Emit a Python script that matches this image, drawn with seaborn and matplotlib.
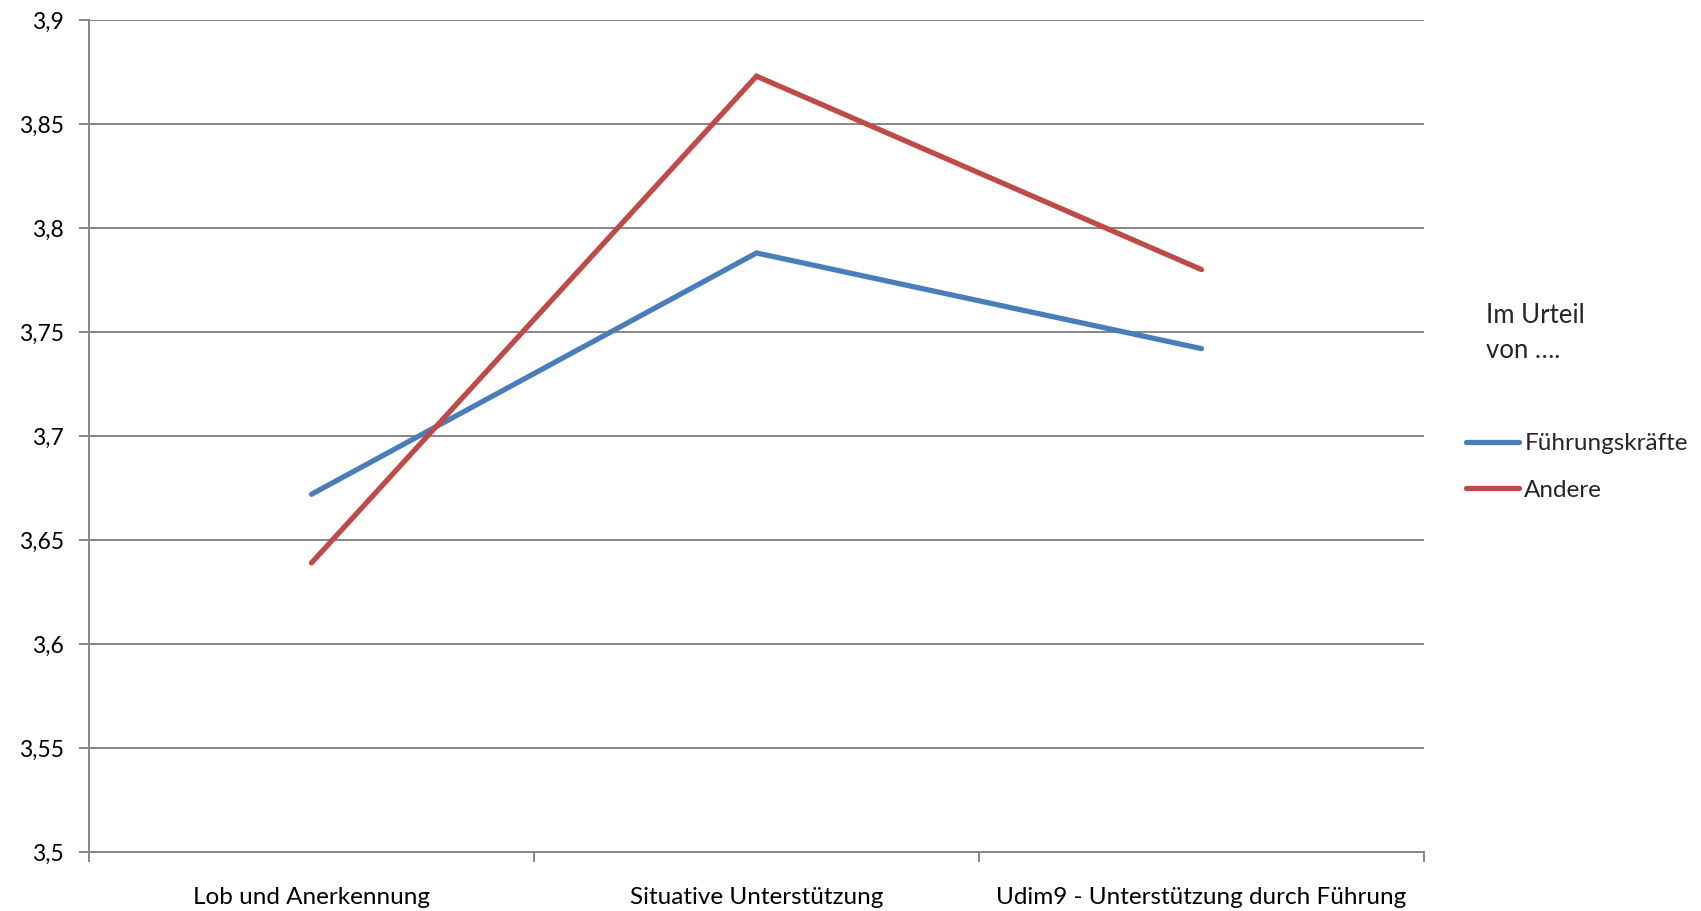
import matplotlib
matplotlib.use("Agg")
import matplotlib.pyplot as plt
from matplotlib.ticker import FixedLocator, FuncFormatter
import seaborn as sns
import pandas as pd

# Mean ratings per dimension, split by who gave the rating
categories = ["Lob und Anerkennung", "Situative Unterstützung", "Udim9 - Unterstützung durch Führung"]
fuehrungskraefte = [3.672, 3.788, 3.742]
andere = [3.639, 3.873, 3.780]
series_names = ["Führungskräfte", "Andere"]
y_ticks = [3.5, 3.55, 3.6, 3.65, 3.7, 3.75, 3.8, 3.85, 3.9]

df = pd.DataFrame({
    "Kategorie": categories * 2,
    "Wert": fuehrungskraefte + andere,
    "Gruppe": [series_names[0]] * 3 + [series_names[1]] * 3,
})

sns.set_theme(style="white")
plt.rcParams["font.family"] = ["Lato", "DejaVu Sans"]

grid_col = "#868686"
palette = {"Führungskräfte": "#4A7EBB", "Andere": "#BE4B48"}
lw = 3.8

fig = plt.figure(figsize=(17.01, 9.11), dpi=100)
ax = fig.add_axes([89 / 1701, 1 - 852 / 911, (1424 - 89) / 1701, (852 - 20) / 911])

sns.lineplot(data=df, x="Kategorie", y="Wert", hue="Gruppe", hue_order=series_names,
             palette=palette, linewidth=lw, sort=False, ax=ax, legend=False,
             solid_capstyle="round", solid_joinstyle="miter")

ax.set_xlim(-0.5, 2.5)
ax.set_ylim(3.5, 3.9)
ax.set_xlabel("")
ax.set_ylabel("")

ax.yaxis.set_major_locator(FixedLocator(y_ticks))
ax.yaxis.set_major_formatter(FuncFormatter(lambda v, p: f"{v:g}".replace(".", ",")))
ax.grid(axis="y", color=grid_col, linewidth=1.4)
ax.set_axisbelow(True)

ax.set_xticks(range(len(categories)))
ax.set_xticklabels(categories)
ax.set_xticks([-0.5, 0.5, 1.5, 2.5], minor=True)
ax.tick_params(axis="x", which="major", length=0, pad=25, labelsize=17.5, colors="black")
ax.tick_params(axis="x", which="minor", length=7, width=1.4, color=grid_col, direction="out")
ax.tick_params(axis="y", which="major", length=7, width=1.4, color=grid_col, direction="out",
               pad=11, labelsize=16.5, labelcolor="black")
ax.tick_params(axis="x", bottom=True, which="both")
ax.tick_params(axis="y", left=True)

for s in ["top", "right"]:
    ax.spines[s].set_visible(False)
for s in ["left", "bottom"]:
    ax.spines[s].set_color(grid_col)
    ax.spines[s].set_linewidth(1.4)

# Legend: title text plus line entries to the right of the plot
fig.text(1486 / 1701, 1 - 333 / 911, "Im Urteil\nvon ….", fontsize=18.5, va="center", ha="left",
         linespacing=1.5)
handles = [plt.Line2D([], [], color=palette[n], linewidth=lw, solid_capstyle="round") for n in series_names]
fig.legend(handles, series_names, loc="center left", bbox_to_anchor=(1466 / 1701, 1 - 467 / 911),
           frameon=False, fontsize=17.5, handlelength=2.2, handletextpad=0.2, labelspacing=1.05,
           borderaxespad=0, borderpad=0)

fig.savefig("out.png", dpi=100, facecolor="white")
